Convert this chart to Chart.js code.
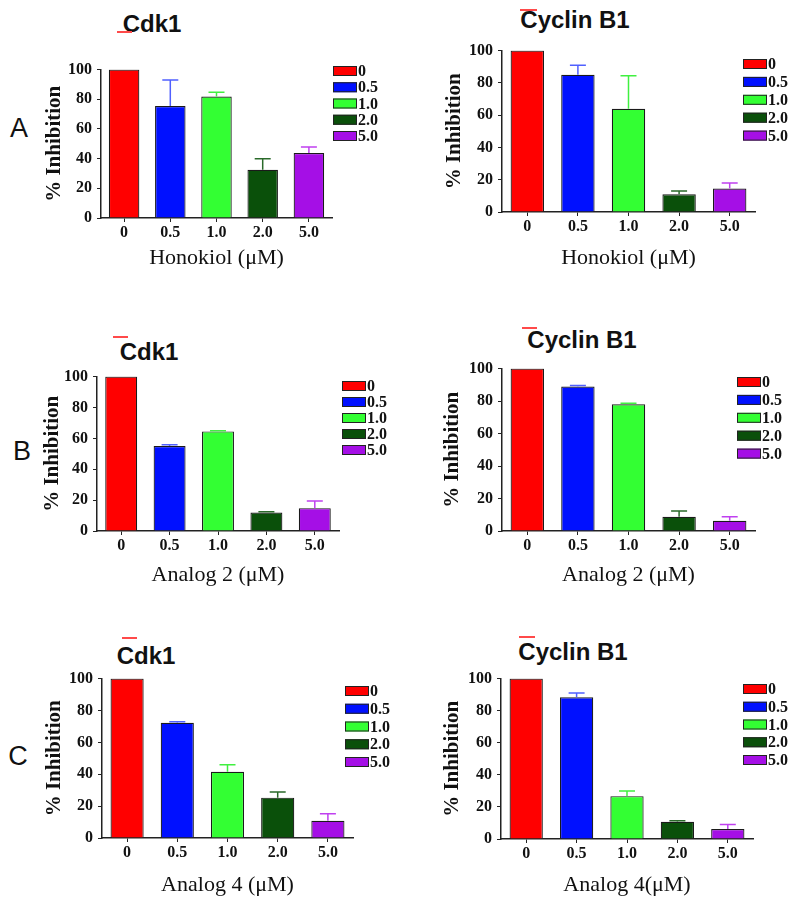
<!DOCTYPE html>
<html>
<head>
<meta charset="utf-8">
<script src="https://cdn.jsdelivr.net/npm/chart.js@4"></script>
<style>
  body { margin: 0; width: 800px; height: 904px; position: relative; overflow: hidden; background: #fff; }
  canvas { position: absolute; }
  .lbl { position: absolute; transform: translate(-50%, -50%); white-space: nowrap; font-family: "Liberation Sans", Arial, sans-serif; color: #111; }
  .title { font-size: 24px; font-weight: bold; }
  .letter { font-size: 27px; }
  .mark { position: absolute; height: 2px; background: #ff4a4a; }
</style>
</head>
<body>
<div class="lbl letter" style="left:19px;top:128px">A</div>
<div class="lbl letter" style="left:22px;top:451px">B</div>
<div class="lbl letter" style="left:18px;top:756px">C</div>

<div class="lbl title" style="left:152px;top:24px">Cdk1</div>
<div class="lbl title" style="left:575px;top:20px">Cyclin B1</div>
<div class="lbl title" style="left:149px;top:352px">Cdk1</div>
<div class="lbl title" style="left:582px;top:340px">Cyclin B1</div>
<div class="lbl title" style="left:146px;top:656px">Cdk1</div>
<div class="lbl title" style="left:573px;top:652px">Cyclin B1</div>

<div class="mark" style="left:117px;top:31px;width:15px"></div>
<div class="mark" style="left:520px;top:9px;width:17px"></div>
<div class="mark" style="left:113px;top:336px;width:15px"></div>
<div class="mark" style="left:522px;top:327px;width:15px"></div>
<div class="mark" style="left:122px;top:637px;width:15px"></div>
<div class="mark" style="left:519px;top:636px;width:16px"></div>

<script>
// concentrations (uM)
const doses = ["0", "0.5", "1.0", "2.0", "5.0"];
const barColors = ["#ff0000", "#0010ff", "#33ff33", "#0a500a", "#a50fe6"];
const errColors = ["#ff0000", "#5060ff", "#40f040", "#2a6a2a", "#c040f0"];

// % inhibition, mean and upper error
const cdk1Honokiol = [100, 75.5, 81.8, 32.5, 43.8];
const cdk1HonokiolErr = [0, 17.5, 3, 7.5, 4];
const cycB1Honokiol = [100, 85, 64, 11, 14.6];
const cycB1HonokiolErr = [0, 6, 20.4, 2, 3.3];

const cdk1Analog2 = [100, 55, 64.5, 12, 14.8];
const cdk1Analog2Err = [0, 0.8, 0.4, 0.4, 4.6];
const cycB1Analog2 = [100, 89, 78, 8.8, 6.3];
const cycB1Analog2Err = [0, 0.6, 0.6, 3.5, 2.5];

const cdk1Analog4 = [100, 72.3, 41.5, 25.3, 10.8];
const cdk1Analog4Err = [0, 0.6, 4.5, 3.6, 4.4];
const cycB1Analog4 = [100, 88.3, 26.7, 10.8, 6.2];
const cycB1Analog4Err = [0, 2.7, 3.3, 0.5, 2.9];

const serif = "'Liberation Serif', 'Times New Roman', serif";

const errorBars = {
  id: "errorBars",
  afterDatasetsDraw(chart, args, opts) {
    const { ctx, scales: { x, y } } = chart;
    const mean = chart.data.datasets[0].data;
    ctx.save();
    ctx.lineWidth = 1.5;
    opts.err.forEach((e, i) => {
      if (!e) return;
      const px = x.getPixelForValue(i);
      const top = y.getPixelForValue(mean[i] + e);
      const base = y.getPixelForValue(mean[i]);
      ctx.strokeStyle = errColors[i];
      ctx.beginPath();
      ctx.moveTo(px, base);
      ctx.lineTo(px, top);
      ctx.moveTo(px - 8, top);
      ctx.lineTo(px + 8, top);
      ctx.stroke();
    });
    ctx.restore();
  }
};

// legend sits over the top right of the plot, like the original
const doseLegend = {
  id: "doseLegend",
  afterDraw(chart, args, opts) {
    const ctx = chart.ctx;
    ctx.save();
    ctx.font = "bold 16px " + serif;
    ctx.textBaseline = "middle";
    doses.forEach((d, i) => {
      const y = opts.y + i * opts.step;
      ctx.fillStyle = barColors[i];
      ctx.fillRect(opts.x, y, 24, 10);
      ctx.strokeStyle = "#222";
      ctx.lineWidth = 1;
      ctx.strokeRect(opts.x + 0.5, y + 0.5, 23, 9);
      ctx.fillStyle = "#111";
      ctx.fillText(d, opts.x + 25, y + 6);
    });
    ctx.restore();
  }
};

// plot: [left, right, y of 100, y of 0]
const panels = [
  { mean: cdk1Honokiol, err: cdk1HonokiolErr, xTitle: "Honokiol (μM)", cl: 0, plot: [101, 332, 69, 218], yTitleX: 55, xGap: 40, legend: [333, 66, 16.25] },
  { mean: cycB1Honokiol, err: cycB1HonokiolErr, xTitle: "Honokiol (μM)", cl: 400, plot: [502, 755, 50, 212], yTitleX: 455, xGap: 46, legend: [743, 59, 17.9] },
  { mean: cdk1Analog2, err: cdk1Analog2Err, xTitle: "Analog 2 (μM)", cl: 0, plot: [97, 339, 376, 531], yTitleX: 53, xGap: 44, legend: [342, 381, 16] },
  { mean: cycB1Analog2, err: cycB1Analog2Err, xTitle: "Analog 2 (μM)", cl: 400, plot: [502, 755, 368, 531], yTitleX: 453, xGap: 44, legend: [737, 377, 17.9] },
  { mean: cdk1Analog4, err: cdk1Analog4Err, xTitle: "Analog 4 (μM)", cl: 0, plot: [102, 353, 678, 838], yTitleX: 55, xGap: 47, legend: [345, 686, 17.75] },
  { mean: cycB1Analog4, err: cycB1Analog4Err, xTitle: "Analog 4(μM)", cl: 400, plot: [501, 753, 678, 839], yTitleX: 453, xGap: 46, legend: [743, 684, 17.75] }
];

function makePanel(p) {
  const [left, right, top, bottom] = p.plot;
  const ct = top - 14;
  const xH = p.xGap + 13.2;
  const canvas = document.createElement("canvas");
  canvas.width = 400;
  canvas.height = Math.round(bottom - ct + xH + 2);
  canvas.style.left = p.cl + "px";
  canvas.style.top = ct + "px";
  document.body.appendChild(canvas);

  const padLeft = p.yTitleX - p.cl - 12.6;

  new Chart(canvas, {
    type: "bar",
    data: {
      labels: doses,
      datasets: [{
        data: p.mean,
        backgroundColor: barColors,
        borderColor: "#1a1a1a",
        borderWidth: 1.2,
        barPercentage: 0.66,
        categoryPercentage: 1
      }]
    },
    options: {
      responsive: false,
      animation: false,
      devicePixelRatio: 1,
      layout: { padding: { left: padLeft, right: p.cl + 400 - right, top: 14, bottom: canvas.height - (bottom - ct) - xH } },
      plugins: {
        legend: { display: false },
        tooltip: { enabled: false },
        errorBars: { err: p.err },
        doseLegend: { x: p.legend[0] - p.cl, y: p.legend[1] - ct, step: p.legend[2] }
      },
      scales: {
        x: {
          offset: true,
          grid: { offset: false, drawOnChartArea: false, tickLength: 4, color: "#222" },
          border: { color: "#222", width: 1.5 },
          ticks: { color: "#111", padding: 1, font: { family: serif, size: 16, weight: "bold" } },
          title: { display: true, text: p.xTitle, color: "#111", padding: 0, font: { family: serif, size: 22 } },
          afterFit: s => { s.height = xH; }
        },
        y: {
          min: 0,
          max: 100,
          grid: { drawOnChartArea: false, tickLength: 4, color: "#222" },
          border: { color: "#222", width: 1.5 },
          ticks: { stepSize: 20, color: "#111", padding: 5, font: { family: serif, size: 16, weight: "bold" } },
          title: { display: true, text: "% Inhibition", color: "#111", padding: 0, font: { family: serif, size: 21, weight: "bold" } },
          afterFit: s => { s.width = left - p.cl - padLeft; }
        }
      }
    },
    plugins: [errorBars, doseLegend]
  });
}

panels.forEach(makePanel);
</script>
</body>
</html>
